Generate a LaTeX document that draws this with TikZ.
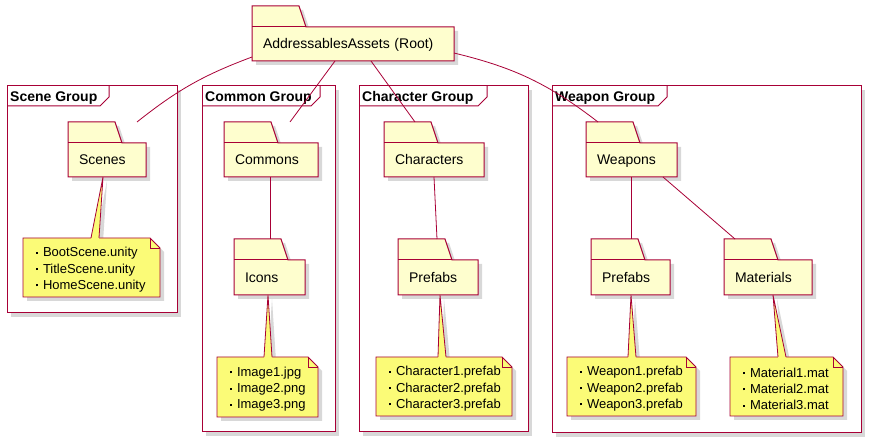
\documentclass[tikz,border=0pt]{standalone}
\usepackage{fontspec}
\setmainfont{Liberation Sans}
\usetikzlibrary{shadows,calc}
\pgfdeclarelayer{frames}
\pgfdeclarelayer{bg}
\pgfsetlayers{frames,bg,main}
\definecolor{pumlred}{HTML}{A80036}
\definecolor{pkgfill}{HTML}{FEFECE}
\definecolor{notefill}{HTML}{FBFB77}
\definecolor{shadowgray}{HTML}{D8D8D8}
\tikzset{
  shadowed/.style={drop shadow={shadow xshift=4pt,shadow yshift=-4pt,fill=shadowgray,opacity=1}},
  pkgtext/.style={draw=none,inner xsep=11pt,inner ysep=0pt,outer sep=0pt,align=left,font=\fontsize{14}{16}\selectfont},
  pkgshape/.style={draw=pumlred,fill=pkgfill,line width=1pt,line join=miter,shadowed},
  pkgline/.style={draw=pumlred,line width=1pt},
  notetext/.style={draw=none,inner xsep=12.5pt,inner ysep=0pt,outer sep=0pt,align=left,font=\fontsize{13}{16.2}\selectfont},
  noteshape/.style={draw=pumlred,fill=notefill,line width=0.8pt,shadowed},
  noteline/.style={draw=pumlred,line width=0.8pt},
  framebox/.style={draw=pumlred,fill=white,line width=1pt,inner sep=0pt,outer sep=0pt,shadowed},
  frameline/.style={draw=pumlred,line width=1pt},
  framelabel/.style={inner sep=0pt,font=\fontsize{14}{16}\selectfont\bfseries},
  edge/.style={draw=pumlred,line width=0.8pt}
}
\newcommand\nb{\makebox[7.5pt][l]{\raisebox{3pt}{\rule{2pt}{2pt}}}}
% name, x0, y tab top, x1, y bottom, text
\newcommand\pkgbox[6]{%
  \pgfmathsetmacro\pkgW{#4-#2}%
  \pgfmathsetmacro\pkgTW{#4-#2-22}%
  \pgfmathsetmacro\pkgH{#5-#3-21}%
  \pgfmathsetmacro\pkgCX{(#2+#4)/2}%
  \pgfmathsetmacro\pkgCY{(#3+21+#5)/2}%
  \node[pkgtext,minimum width=\pkgW pt,minimum height=\pkgH pt,text width=\pkgTW pt] (#1) at (\pkgCX,\pkgCY) {\rule[-3pt]{0pt}{16pt}#6};%
  \begin{pgfonlayer}{bg}
    \draw[pkgshape] (#1.south west) -- (#1.north west) -- ([yshift=21pt]#1.north west)
      -- ([xshift=47pt,yshift=21pt]#1.north west) -- ([xshift=54pt]#1.north west)
      -- (#1.north east) -- (#1.south east) -- cycle;
    \draw[pkgline] (#1.north west) -- ([xshift=54pt]#1.north west);
  \end{pgfonlayer}%
}
% package, tip xshift, note name, x0, y0, x1, y1, base xshift, content
\newcommand\notebox[9]{%
  \pgfmathsetmacro\ntW{#6-#4}%
  \pgfmathsetmacro\ntTW{#6-#4-25}%
  \pgfmathsetmacro\ntH{#7-#5}%
  \pgfmathsetmacro\ntCX{(#4+#6)/2}%
  \pgfmathsetmacro\ntCY{(#5+#7)/2}%
  \node[notetext,minimum width=\ntW pt,minimum height=\ntH pt,text width=\ntTW pt] (#3) at (\ntCX,\ntCY) {\rule{0pt}{14pt}#9};%
  \begin{pgfonlayer}{bg}
    \fill[shadowgray] ([xshift=#2pt+4pt,yshift=-4pt]#1.south west) -- ([xshift=#8pt+4pt,yshift=-4pt]#3.north west)
      -- ([xshift=#8pt+12pt,yshift=-4pt]#3.north west) -- cycle;
    \draw[noteshape] (#3.north west) -- ([xshift=-10pt]#3.north east) -- ([yshift=-10pt]#3.north east)
      -- (#3.south east) -- (#3.south west) -- cycle;
    \draw[noteline] ([xshift=-10pt]#3.north east) -- ([xshift=-10pt,yshift=-10pt]#3.north east) -- ([yshift=-10pt]#3.north east);
    \fill[notefill] ([xshift=#2pt]#1.south west) -- ([xshift=#8pt]#3.north west) -- ([xshift=#8pt,yshift=-1.5pt]#3.north west)
      -- ([xshift=#8pt+8pt,yshift=-1.5pt]#3.north west) -- ([xshift=#8pt+8pt]#3.north west) -- cycle;
    \draw[noteline] ([xshift=#8pt]#3.north west) -- ([xshift=#2pt]#1.south west) -- ([xshift=#8pt+8pt]#3.north west);
  \end{pgfonlayer}%
}
% name, x0, y0, x1, y1, label right, label
\newcommand\grpbox[7]{%
  \pgfmathsetmacro\grW{#4-#2}%
  \pgfmathsetmacro\grH{#5-#3}%
  \begin{pgfonlayer}{frames}
    \node[framebox,minimum width=\grW pt,minimum height=\grH pt,anchor=north west] (#1) at (#2,#3) {};
    \node[framelabel,anchor=base west] (#1-label) at ({#2+3},{#3+15.5}) {#7};
    \draw[frameline] (#2,{#3+20}) -- ({#6-9},{#3+20}) -- (#6,{#3+11}) -- (#6,#3);
  \end{pgfonlayer}%
}
\begin{document}
\begin{tikzpicture}[x=1pt,y=-1pt]
\useasboundingbox (0,0) rectangle (871,443);
% groups
\grpbox{scenegroup}{7}{86}{177}{313}{109}{Scene Group}
\grpbox{commongroup}{202}{86}{335}{432}{320}{Common Group}
\grpbox{chargroup}{359}{86}{528}{432}{487}{Character Group}
\grpbox{weapongroup}{552}{86}{861}{433}{667}{Weapon Group}
% packages
\pkgbox{root}{252}{6}{454}{61}{AddressablesAssets (Root)}
\pkgbox{scenes}{68}{122}{146}{177}{Scenes}
\pkgbox{commons}{224}{122}{318}{177}{Commons}
\pkgbox{icons}{234}{239}{305}{295}{Icons}
\pkgbox{characters}{384}{122}{484}{177}{Characters}
\pkgbox{charprefabs}{398}{239}{478}{295}{Prefabs}
\pkgbox{weapons}{586}{122}{677}{177}{Weapons}
\pkgbox{wprefabs}{591}{239}{670}{295}{Prefabs}
\pkgbox{materials}{724}{239}{812}{295}{Materials}
% notes
\notebox{scenes}{35}{scenesnote}{23}{238}{160}{297}{68}{\nb BootScene.unity\\\nb TitleScene.unity\\\nb HomeScene.unity}
\notebox{icons}{34}{iconsnote}{217}{357}{318}{417}{47}{\nb Image1.jpg\\\nb Image2.png\\\nb Image3.png}
\notebox{charprefabs}{42}{charnote}{376}{357}{512}{416}{62}{\nb Character1.prefab\\\nb Character2.prefab\\\nb Character3.prefab}
\notebox{wprefabs}{40}{weaponnote}{567}{357}{696}{416}{61}{\nb Weapon1.prefab\\\nb Weapon2.prefab\\\nb Weapon3.prefab}
\notebox{materials}{49}{materialnote}{730}{357}{843}{416}{48}{\nb Material1.mat\\\nb Material2.mat\\\nb Material3.mat}
% edges
\draw[edge] ([yshift=4pt]root.south west) to[bend right=9] ([xshift=69pt,yshift=21pt]scenes.north west);
\draw[edge] ([xshift=83pt]root.south west) -- ([xshift=66pt,yshift=21pt]commons.north west);
\draw[edge] ([xshift=119pt]root.south west) -- ([xshift=31pt,yshift=21pt]characters.north west);
\draw[edge] ([yshift=-9pt]root.east) to[bend left=12] ([xshift=12pt,yshift=21pt]weapons.north west);
\draw[edge] ([xshift=46pt]commons.south west) -- ([xshift=36pt,yshift=21pt]icons.north west);
\draw[edge] ([xshift=50pt]characters.south west) -- ([xshift=39pt,yshift=21pt]charprefabs.north west);
\draw[edge] ([xshift=45pt]weapons.south west) -- ([xshift=40pt,yshift=21pt]wprefabs.north west);
\draw[edge] ([xshift=77pt]weapons.south west) -- ([xshift=11pt,yshift=21pt]materials.north west);
\end{tikzpicture}
\end{document}
